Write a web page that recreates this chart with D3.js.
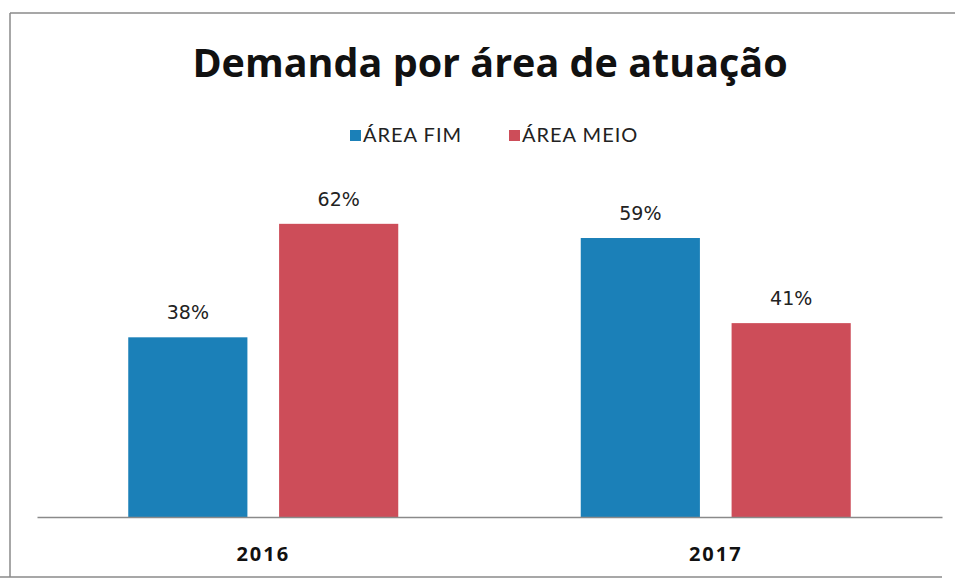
<!DOCTYPE html>
<html lang="pt">
<head>
<meta charset="utf-8">
<script src="https://cdn.jsdelivr.net/npm/d3@7"></script>
<style>
  html, body { margin: 0; padding: 0; background: #ffffff; }
  svg { display: block; }
</style>
</head>
<body>
<svg id="chart" width="957" height="579"></svg>
<script>
// Chart data
const titleText = "Demanda por área de atuação";
const years = ["2016", "2017"];
const seriesNames = ["ÁREA FIM", "ÁREA MEIO"];
const seriesColors = ["#1b80b8", "#cd4d59"];
const areaFim = [0.38, 0.59];
const areaMeio = [0.62, 0.41];

const rows = years.map((y, i) => ({ year: y, values: [areaFim[i], areaMeio[i]] }));

const svg = d3.select("#chart");

// Outer frame (top, left, bottom edges)
const frame = svg.append("g").attr("stroke", "#8a8a8a").attr("stroke-width", 1.5).attr("fill", "none");
frame.append("line").attr("x1", 10).attr("x2", 955).attr("y1", 13).attr("y2", 13);
frame.append("line").attr("x1", 10).attr("x2", 10).attr("y1", 13).attr("y2", 577);
frame.append("line").attr("x1", 0).attr("x2", 942).attr("y1", 577).attr("y2", 577);

// Scales
const plot = { left: 37, right: 942, top: 186, bottom: 517 };
const x = d3.scaleBand().domain(years).range([plot.left, plot.right]).paddingInner(0).paddingOuter(0);
const groupWidth = 270;
const xs = d3.scaleBand().domain(d3.range(seriesNames.length))
  .range([-groupWidth / 2, groupWidth / 2]).paddingInner(0.21).paddingOuter(0);
const y = d3.scaleLinear().domain([0, 0.7]).range([plot.bottom, plot.top]);
const pct = d3.format(".0%");

// Title
svg.append("text")
  .attr("x", 490).attr("y", 77)
  .attr("text-anchor", "middle")
  .attr("font-family", "'Open Sans', sans-serif")
  .attr("font-weight", 700)
  .attr("font-size", 39.5)
  .attr("fill", "#111")
  .text(titleText);

// Legend
const legendX = [350, 509];
const legend = svg.append("g")
  .attr("font-family", "Lato, 'Open Sans', sans-serif")
  .attr("font-size", 20)
  .attr("letter-spacing", 1)
  .attr("fill", "#222");
seriesNames.forEach((name, i) => {
  const g = legend.append("g").attr("transform", `translate(${legendX[i]},0)`);
  g.append("rect").attr("x", 0).attr("y", 130).attr("width", 11).attr("height", 11).attr("fill", seriesColors[i]);
  g.append("text").attr("x", 13).attr("y", 142).text(name);
});

// Bars
const groups = svg.append("g").selectAll("g.grp").data(rows).join("g")
  .attr("class", "grp")
  .attr("transform", d => `translate(${x(d.year) + x.bandwidth() / 2},0)`);

groups.selectAll("rect").data(d => d.values).join("rect")
  .attr("x", (v, i) => xs(i))
  .attr("width", xs.bandwidth())
  .attr("y", v => y(v))
  .attr("height", v => y(0) - y(v))
  .attr("fill", (v, i) => seriesColors[i]);

// Value labels
groups.selectAll("text.val").data(d => d.values).join("text")
  .attr("class", "val")
  .attr("x", (v, i) => xs(i) + xs.bandwidth() / 2)
  .attr("y", v => y(v) - 18)
  .attr("text-anchor", "middle")
  .attr("font-family", "'DejaVu Sans', sans-serif")
  .attr("font-size", 19)
  .attr("fill", "#222")
  .text(v => pct(v));

// Category axis
const axis = svg.append("g").attr("transform", `translate(0,${plot.bottom})`)
  .call(d3.axisBottom(x).tickSize(0).tickPadding(0));
axis.select(".domain").attr("stroke", "#8a8a8a").attr("stroke-width", 1.5);
axis.selectAll("text")
  .attr("dy", 0).attr("y", 44)
  .attr("font-family", "'Open Sans', sans-serif")
  .attr("font-weight", 700)
  .attr("font-size", 20)
  .attr("letter-spacing", 2)
  .attr("fill", "#111");
</script>
</body>
</html>
